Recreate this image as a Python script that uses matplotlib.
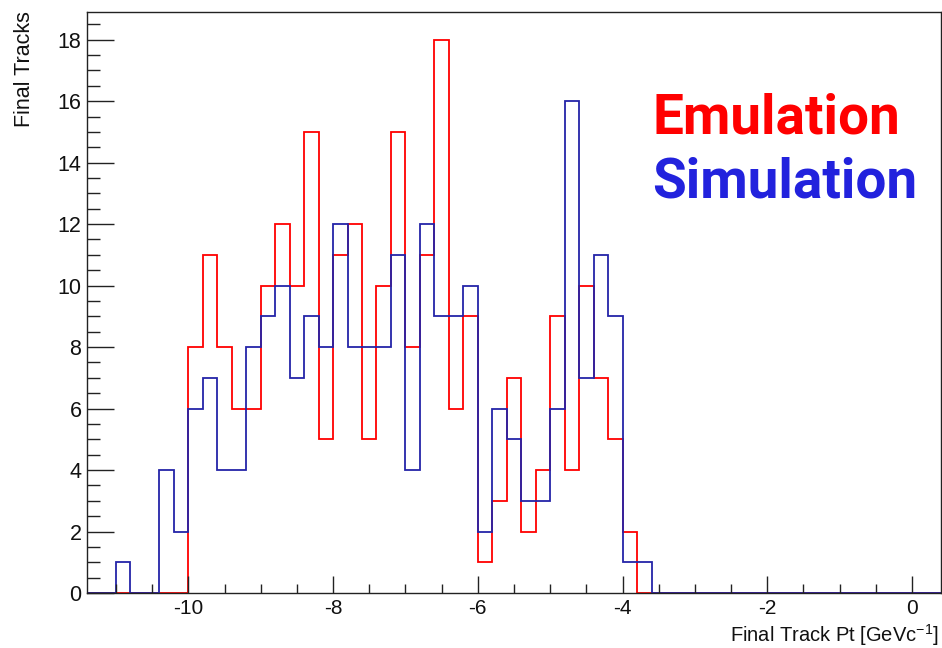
import numpy as np
import matplotlib
matplotlib.use("Agg")
import matplotlib.pyplot as plt
from matplotlib.ticker import MultipleLocator

plt.rcParams['font.family'] = ['Liberation Sans', 'DejaVu Sans']
plt.rcParams['axes.unicode_minus'] = False
plt.rcParams['mathtext.fontset'] = 'custom'
plt.rcParams['mathtext.rm'] = 'Liberation Sans'
plt.rcParams['mathtext.it'] = 'Liberation Sans:italic'

# Histogram binning: 0.2 GeV/c^-1 bins over [-11.4, 0.4]
bin_lo, bin_hi, bin_w = -11.4, 0.4, 0.2
edges = np.round(np.arange(bin_lo, bin_hi + bin_w / 2, bin_w), 3)

# Bin contents, first bin at -11.4
emulation = [0, 0, 0, 0, 0, 0, 0,
             8, 11, 8, 6, 6, 10, 12, 10, 15, 5, 11, 12, 5, 10,
             15, 8, 11, 18, 6, 9, 1, 3, 7, 2, 4, 9, 4, 10, 7, 5, 2,
             0, 0, 0, 0, 0, 0, 0, 0, 0, 0, 0, 0, 0, 0, 0, 0, 0, 0, 0, 0, 0]
simulation = [0, 0, 1, 0, 0, 4, 2,
              6, 7, 4, 4, 8, 9, 10, 7, 9, 8, 12, 8, 8, 8,
              11, 4, 12, 9, 9, 10, 2, 6, 5, 3, 3, 6, 16, 7, 11, 9, 1,
              1, 0, 0, 0, 0, 0, 0, 0, 0, 0, 0, 0, 0, 0, 0, 0, 0, 0, 0, 0, 0]

x_ticks = [-10, -8, -6, -4, -2, 0]
y_ticks = [0, 2, 4, 6, 8, 10, 12, 14, 16, 18]

W, H = 942, 648
fig = plt.figure(figsize=(W / 100, H / 100), dpi=100)
ax = fig.add_axes([87 / W, 1 - 593 / H, (941 - 87) / W, (593 - 12) / H])

ax.stairs(emulation, edges, color='#ff0000', lw=1.3, baseline=0)
ax.stairs(simulation, edges, color='#2424a8', lw=1.3, baseline=0)

ax.set_xlim(bin_lo, bin_hi)
ax.set_ylim(0, max(max(emulation), max(simulation)) * 1.05)

ax.set_xticks(x_ticks)
ax.set_xticklabels([str(t) for t in x_ticks])
ax.set_yticks(y_ticks)
ax.xaxis.set_minor_locator(MultipleLocator(0.5))
ax.yaxis.set_minor_locator(MultipleLocator(0.5))
ax.tick_params(axis='x', which='major', direction='in', length=12.2, width=1.0,
               labelsize=15, pad=4, color='#222222', labelcolor='#111111')
ax.tick_params(axis='x', which='minor', direction='in', length=6.5, width=1.0,
               color='#222222')
ax.tick_params(axis='y', which='major', direction='in', length=19.4, width=1.0,
               labelsize=15.5, pad=4, color='#222222', labelcolor='#111111')
ax.tick_params(axis='y', which='minor', direction='in', length=9.4, width=1.0,
               color='#222222')
for s in ax.spines.values():
    s.set_linewidth(1.0)
    s.set_color('#222222')

fig.text(939 / W, 1 - 642 / H, r'Final Track Pt [GeVc$^{\mathregular{-1}}$]',
         fontsize=14.5, ha='right', va='baseline', color='#111111')
fig.text(25 / W, 1 - 11 / H, 'Final Tracks', rotation=90, fontsize=15.5,
         ha='center', va='top', color='#111111')

fig.text(652 / W, 1 - 133 / H, 'Emulation', color='#ff0000', fontsize=39.5,
         fontweight='bold', family=['Roboto', 'DejaVu Sans'], va='baseline')
fig.text(652 / W, 1 - 198 / H, 'Simulation', color='#2222dd', fontsize=39.5,
         fontweight='bold', family=['Roboto', 'DejaVu Sans'], va='baseline')

fig.savefig('out.png', dpi=100)
